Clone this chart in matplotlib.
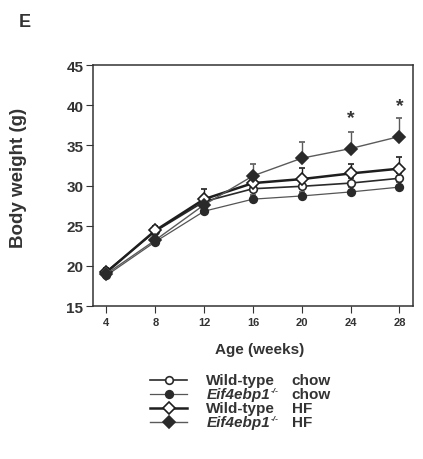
#!/usr/bin/env python
import numpy as np
import matplotlib
matplotlib.use('Agg')
import matplotlib.pyplot as plt
from matplotlib.lines import Line2D

plt.rcParams['font.family'] = ['Liberation Sans', 'DejaVu Sans']
plt.rcParams['font.weight'] = 'bold'

weeks = [4, 8, 12, 16, 20, 24, 28]

wt_chow = [19.3, 24.3, 28.0, 29.6, 29.9, 30.3, 30.9]
wt_chow_err = [0.4, 0.5, 0.6, 0.6, 0.6, 0.6, 0.7]
ko_chow = [18.8, 23.0, 26.8, 28.3, 28.7, 29.2, 29.8]
ko_chow_err = [0.3, 0.4, 0.5, 0.5, 0.5, 0.6, 0.6]
wt_hf = [19.2, 24.4, 28.3, 30.3, 30.8, 31.5, 32.1]
wt_hf_err = [0.4, 0.6, 1.3, 0.9, 1.4, 1.2, 1.5]
ko_hf = [19.0, 23.2, 27.6, 31.2, 33.4, 34.6, 36.1]
ko_hf_err = [0.4, 0.6, 0.9, 1.5, 2.0, 2.1, 2.3]

star_weeks = [24, 28]
star_y = [38.4, 40.0]

labels = ['Wild-type', 'Eif4ebp1', 'Wild-type', 'Eif4ebp1']
diets = ['chow', 'chow', 'HF', 'HF']

series = [
    (wt_chow, wt_chow_err, dict(marker='o', color='#2a2a2a', mfc='white', lw=1.2, ms=5.5)),
    (ko_chow, ko_chow_err, dict(marker='o', color='#555555', mfc='#2a2a2a', mec='#2a2a2a', lw=0.9, ms=5.5)),
    (wt_hf, wt_hf_err, dict(marker='D', color='#1e1e1e', mfc='white', lw=1.8, ms=6)),
    (ko_hf, ko_hf_err, dict(marker='D', color='#5a5a5a', mfc='#2a2a2a', mec='#2a2a2a', lw=1.0, ms=6)),
]

fig = plt.figure(figsize=(4.23, 4.6), dpi=100)
ax = fig.add_axes([0.220, 0.3326, 0.756, 0.5239])

for vals, err, st in series:
    ax.errorbar(weeks, vals, yerr=[np.zeros(len(err)), err], capsize=2.5,
                elinewidth=1, capthick=1, ecolor=st['color'], mew=1.2, **st)

for w, y in zip(star_weeks, star_y):
    ax.text(w, y, '*', ha='center', va='center', fontsize=14, color='#333333')

ax.set_xlim(2.9, 29.1)
ax.set_ylim(15, 45)
ax.set_xticks(weeks)
ax.set_yticks([15, 20, 25, 30, 35, 40, 45])
ax.tick_params(axis='x', labelsize=8, direction='out', length=5, pad=3, colors='#333333')
ax.tick_params(axis='y', labelsize=11, direction='out', length=5, pad=2, colors='#333333')
for sp in ax.spines.values():
    sp.set_color('#333333')
    sp.set_linewidth(1.1)
ax.set_xlabel('Age (weeks)', fontsize=11, fontweight='bold', color='#333333')
ax.set_ylabel('Body weight (g)', fontsize=13.5, fontweight='bold', color='#333333')
ax.xaxis.set_label_coords(0.52, -0.15)
ax.yaxis.set_label_coords(-0.208, 0.535)

fig.text(0.045, 0.952, 'E', fontsize=13, fontweight='bold', color='#333333', va='center')

# legend, drawn by hand so the diet column lines up
row_y = [0.171, 0.141, 0.111, 0.081]
fig.canvas.draw()
rend = fig.canvas.get_renderer()
for (vals, err, st), lab, diet, y in zip(series, labels, diets, row_y):
    line_st = {k: v for k, v in st.items() if k in ('color', 'lw')}
    mark_st = {k: v for k, v in st.items() if k not in ('lw',)}
    fig.add_artist(Line2D([0.355, 0.442], [y, y], transform=fig.transFigure, **line_st))
    fig.add_artist(Line2D([0.400], [y], transform=fig.transFigure, ls='none', mew=1.2, **mark_st))
    if lab.startswith('Eif'):
        t = fig.text(0.488, y, lab, fontsize=11, style='italic', color='#333333', va='center')
        bb = t.get_window_extent(rend).transformed(fig.transFigure.inverted())
        fig.text(bb.x1 + 0.002, y + 0.007, '-/-', fontsize=6, style='italic',
                 color='#333333', va='center')
    else:
        fig.text(0.488, y, lab, fontsize=11, color='#333333', va='center')
    fig.text(0.690, y, diet, fontsize=11, color='#333333', va='center')

fig.savefig('out.png', dpi=100)
